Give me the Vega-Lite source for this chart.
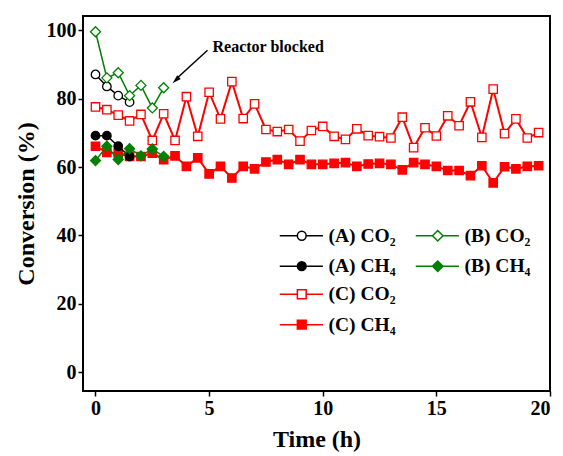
{
  "$schema": "https://vega.github.io/schema/vega-lite/v6.json",
  "width": 467,
  "height": 375,
  "autosize": {"type": "none"},
  "padding": {"left": 83, "top": 16, "right": 13, "bottom": 65},
  "background": "white",
  "config": {
    "view": {"stroke": "black", "strokeWidth": 2},
    "font": "Liberation Serif",
    "axis": {"domain": false, "grid": false, "tickColor": "black", "tickWidth": 1.5, "tickSize": 5, "labelFont": "Liberation Serif", "labelFontWeight": "bold", "labelFontSize": 20, "labelColor": "black", "labelPadding": 2, "titleFont": "Liberation Serif", "titleFontWeight": "bold", "titleFontSize": 24, "titleColor": "black"},
    "legend": {"labelFont": "Liberation Serif", "labelFontWeight": "bold", "labelFontSize": 19.5, "labelColor": "black", "padding": 0, "offset": 0, "rowPadding": 9.4, "symbolSize": 64, "symbolStrokeWidth": 1.5, "symbolOpacity": 1, "labelOffset": 17, "orient": "none", "direction": "vertical"}
  },
  "data": {"values": [
    {"s": "(A) CO₂", "t": 0, "v": 87.1}, {"s": "(A) CO₂", "t": 0.5, "v": 83.6}, {"s": "(A) CO₂", "t": 1, "v": 80.9}, {"s": "(A) CO₂", "t": 1.5, "v": 79.0},
    {"s": "(A) CH₄", "t": 0, "v": 69.2}, {"s": "(A) CH₄", "t": 0.5, "v": 69.2}, {"s": "(A) CH₄", "t": 1, "v": 66.1}, {"s": "(A) CH₄", "t": 1.5, "v": 63.1},
    {"s": "(B) CO₂", "t": 0, "v": 99.6}, {"s": "(B) CO₂", "t": 0.5, "v": 86.1}, {"s": "(B) CO₂", "t": 1, "v": 87.6}, {"s": "(B) CO₂", "t": 1.5, "v": 80.9}, {"s": "(B) CO₂", "t": 2, "v": 83.9}, {"s": "(B) CO₂", "t": 2.5, "v": 77.3}, {"s": "(B) CO₂", "t": 3, "v": 83.2},
    {"s": "(B) CH₄", "t": 0, "v": 61.9}, {"s": "(B) CH₄", "t": 0.5, "v": 66.1}, {"s": "(B) CH₄", "t": 1, "v": 62.2}, {"s": "(B) CH₄", "t": 1.5, "v": 65.4}, {"s": "(B) CH₄", "t": 2, "v": 63.3}, {"s": "(B) CH₄", "t": 2.5, "v": 65.3}, {"s": "(B) CH₄", "t": 3, "v": 63.1},
    {"s": "(C) CO₂", "t": 0, "v": 77.6}, {"s": "(C) CO₂", "t": 0.5, "v": 76.8}, {"s": "(C) CO₂", "t": 1, "v": 75.2}, {"s": "(C) CO₂", "t": 1.5, "v": 73.5}, {"s": "(C) CO₂", "t": 2, "v": 75.4}, {"s": "(C) CO₂", "t": 2.5, "v": 67.8}, {"s": "(C) CO₂", "t": 3, "v": 75.6}, {"s": "(C) CO₂", "t": 3.5, "v": 67.8}, {"s": "(C) CO₂", "t": 4, "v": 80.6}, {"s": "(C) CO₂", "t": 4.5, "v": 69.0},
    {"s": "(C) CO₂", "t": 5, "v": 81.9}, {"s": "(C) CO₂", "t": 5.5, "v": 74.1}, {"s": "(C) CO₂", "t": 6, "v": 85.0}, {"s": "(C) CO₂", "t": 6.5, "v": 74.2}, {"s": "(C) CO₂", "t": 7, "v": 78.5}, {"s": "(C) CO₂", "t": 7.5, "v": 71.0}, {"s": "(C) CO₂", "t": 8, "v": 70.4}, {"s": "(C) CO₂", "t": 8.5, "v": 71.0}, {"s": "(C) CO₂", "t": 9, "v": 67.6}, {"s": "(C) CO₂", "t": 9.5, "v": 70.7},
    {"s": "(C) CO₂", "t": 10, "v": 71.9}, {"s": "(C) CO₂", "t": 10.5, "v": 69.0}, {"s": "(C) CO₂", "t": 11, "v": 68.1}, {"s": "(C) CO₂", "t": 11.5, "v": 71.2}, {"s": "(C) CO₂", "t": 12, "v": 69.2}, {"s": "(C) CO₂", "t": 12.5, "v": 68.9}, {"s": "(C) CO₂", "t": 13, "v": 68.5}, {"s": "(C) CO₂", "t": 13.5, "v": 74.6}, {"s": "(C) CO₂", "t": 14, "v": 65.7}, {"s": "(C) CO₂", "t": 14.5, "v": 71.5},
    {"s": "(C) CO₂", "t": 15, "v": 69.1}, {"s": "(C) CO₂", "t": 15.5, "v": 75.0}, {"s": "(C) CO₂", "t": 16, "v": 72.1}, {"s": "(C) CO₂", "t": 16.5, "v": 79.1}, {"s": "(C) CO₂", "t": 17, "v": 68.7}, {"s": "(C) CO₂", "t": 17.5, "v": 82.8}, {"s": "(C) CO₂", "t": 18, "v": 69.8}, {"s": "(C) CO₂", "t": 18.5, "v": 74.1}, {"s": "(C) CO₂", "t": 19, "v": 68.5}, {"s": "(C) CO₂", "t": 19.5, "v": 70.1},
    {"s": "(C) CH₄", "t": 0, "v": 66.1}, {"s": "(C) CH₄", "t": 0.5, "v": 64.3}, {"s": "(C) CH₄", "t": 1, "v": 64.0}, {"s": "(C) CH₄", "t": 1.5, "v": 63.1}, {"s": "(C) CH₄", "t": 2, "v": 63.1}, {"s": "(C) CH₄", "t": 2.5, "v": 64.1}, {"s": "(C) CH₄", "t": 3, "v": 62.2}, {"s": "(C) CH₄", "t": 3.5, "v": 63.3}, {"s": "(C) CH₄", "t": 4, "v": 60.2}, {"s": "(C) CH₄", "t": 4.5, "v": 62.7},
    {"s": "(C) CH₄", "t": 5, "v": 58.0}, {"s": "(C) CH₄", "t": 5.5, "v": 60.2}, {"s": "(C) CH₄", "t": 6, "v": 56.8}, {"s": "(C) CH₄", "t": 6.5, "v": 60.2}, {"s": "(C) CH₄", "t": 7, "v": 59.5}, {"s": "(C) CH₄", "t": 7.5, "v": 61.5}, {"s": "(C) CH₄", "t": 8, "v": 62.2}, {"s": "(C) CH₄", "t": 8.5, "v": 60.8}, {"s": "(C) CH₄", "t": 9, "v": 62.2}, {"s": "(C) CH₄", "t": 9.5, "v": 60.8},
    {"s": "(C) CH₄", "t": 10, "v": 60.8}, {"s": "(C) CH₄", "t": 10.5, "v": 61.1}, {"s": "(C) CH₄", "t": 11, "v": 61.3}, {"s": "(C) CH₄", "t": 11.5, "v": 60.2}, {"s": "(C) CH₄", "t": 12, "v": 60.9}, {"s": "(C) CH₄", "t": 12.5, "v": 61.1}, {"s": "(C) CH₄", "t": 13, "v": 60.8}, {"s": "(C) CH₄", "t": 13.5, "v": 59.2}, {"s": "(C) CH₄", "t": 14, "v": 61.3}, {"s": "(C) CH₄", "t": 14.5, "v": 60.8},
    {"s": "(C) CH₄", "t": 15, "v": 60.2}, {"s": "(C) CH₄", "t": 15.5, "v": 59.0}, {"s": "(C) CH₄", "t": 16, "v": 59.0}, {"s": "(C) CH₄", "t": 16.5, "v": 57.5}, {"s": "(C) CH₄", "t": 17, "v": 60.4}, {"s": "(C) CH₄", "t": 17.5, "v": 55.4}, {"s": "(C) CH₄", "t": 18, "v": 60.1}, {"s": "(C) CH₄", "t": 18.5, "v": 59.5}, {"s": "(C) CH₄", "t": 19, "v": 60.2}, {"s": "(C) CH₄", "t": 19.5, "v": 60.4}
  ]},
  "encoding": {
    "x": {"field": "t", "type": "quantitative", "scale": {"domain": [-0.55, 20], "nice": false, "zero": false}, "axis": {"values": [0, 5, 10, 15, 20], "title": "Time (h)", "titlePadding": 9}},
    "y": {"field": "v", "type": "quantitative", "scale": {"domain": [-5.5, 104.2], "nice": false, "zero": false}, "axis": {"values": [0, 20, 40, 60, 80, 100], "title": "Conversion (%)", "titlePadding": 8}}
  },
  "layer": [
    {
      "transform": [{"filter": {"field": "s", "equal": "(C) CO₂"}}],
      "layer": [
        {"mark": {"type": "line", "color": "red", "strokeWidth": 2}, "encoding": {}},
        {"mark": {"type": "point", "shape": "square", "size": 70, "filled": true, "fill": "white", "stroke": "red", "strokeWidth": 1.3, "opacity": 1}, "encoding": {}}
      ]
    },
    {
      "transform": [{"filter": {"field": "s", "equal": "(C) CH₄"}}],
      "layer": [
        {"mark": {"type": "line", "color": "red", "strokeWidth": 2}, "encoding": {}},
        {"mark": {"type": "point", "shape": "square", "size": 70, "filled": true, "fill": "red", "stroke": "red", "strokeWidth": 1.3, "opacity": 1}, "encoding": {}}
      ]
    },
    {
      "transform": [{"filter": {"field": "s", "equal": "(A) CO₂"}}],
      "layer": [
        {"mark": {"type": "line", "color": "black", "strokeWidth": 1.5}, "encoding": {}},
        {"mark": {"type": "point", "shape": "circle", "size": 72, "filled": true, "fill": "white", "stroke": "black", "strokeWidth": 1.3, "opacity": 1}, "encoding": {}}
      ]
    },
    {
      "transform": [{"filter": {"field": "s", "equal": "(A) CH₄"}}],
      "layer": [
        {"mark": {"type": "line", "color": "black", "strokeWidth": 1.5}, "encoding": {}},
        {"mark": {"type": "point", "shape": "circle", "size": 72, "filled": true, "fill": "black", "stroke": "black", "strokeWidth": 1.3, "opacity": 1}, "encoding": {}}
      ]
    },
    {
      "transform": [{"filter": {"field": "s", "equal": "(B) CO₂"}}],
      "layer": [
        {"mark": {"type": "line", "color": "#008000", "strokeWidth": 1.5}, "encoding": {}},
        {"mark": {"type": "point", "shape": "diamond", "size": 100, "filled": true, "fill": "white", "stroke": "#008000", "strokeWidth": 1.3, "opacity": 1}, "encoding": {}}
      ]
    },
    {
      "transform": [{"filter": {"field": "s", "equal": "(B) CH₄"}}],
      "layer": [
        {"mark": {"type": "line", "color": "#008000", "strokeWidth": 1.5}, "encoding": {}},
        {"mark": {"type": "point", "shape": "diamond", "size": 100, "filled": true, "fill": "#008000", "stroke": "#008000", "strokeWidth": 1.3, "opacity": 1}, "encoding": {}}
      ]
    },
    {
      "transform": [{"filter": "datum.t < -100"}],
      "mark": {"type": "point", "shape": "M-5.5,0L-1.1,0M1.1,0L5.3,0M-1.1,0A1.1,1.1,0,1,0,1.1,0A1.1,1.1,0,1,0,-1.1,0Z", "filled": true, "stroke": "black", "strokeWidth": 1.5, "opacity": 1},
      "encoding": {
        "fill": {"field": "s", "type": "nominal", "scale": {"domain": ["(A) CO₂", "(A) CH₄"], "range": ["white", "black"]},
          "legend": {"title": null, "legendX": 209, "legendY": 210, "symbolType": "M-5.5,0L-1.1,0M1.1,0L5.3,0M-1.1,0A1.1,1.1,0,1,0,1.1,0A1.1,1.1,0,1,0,-1.1,0Z", "symbolStrokeColor": "black"}}
      }
    },
    {
      "transform": [{"filter": "datum.t < -100"}],
      "mark": {"type": "point", "shape": "M-5.5,0L-1.1,0M1.1,0L5.3,0M-1.1,-1.1L1.1,-1.1L1.1,1.1L-1.1,1.1Z", "filled": true, "stroke": "red", "strokeWidth": 1.5, "opacity": 1},
      "encoding": {
        "fill": {"field": "s", "type": "nominal", "scale": {"domain": ["(C) CO₂", "(C) CH₄"], "range": ["white", "red"]},
          "legend": {"title": null, "legendX": 209, "legendY": 268.5, "symbolType": "M-5.5,0L-1.1,0M1.1,0L5.3,0M-1.1,-1.1L1.1,-1.1L1.1,1.1L-1.1,1.1Z", "symbolStrokeColor": "red"}}
      }
    },
    {
      "transform": [{"filter": "datum.t < -100"}],
      "mark": {"type": "point", "shape": "M-5.5,0L-1.3,0M1.3,0L5.3,0M-1.3,0L0,-1.3L1.3,0L0,1.3Z", "filled": true, "stroke": "#008000", "strokeWidth": 1.5, "opacity": 1},
      "encoding": {
        "fill": {"field": "s", "type": "nominal", "scale": {"domain": ["(B) CO₂", "(B) CH₄"], "range": ["white", "#008000"]},
          "legend": {"title": null, "legendX": 345, "legendY": 210, "symbolType": "M-5.5,0L-1.3,0M1.3,0L5.3,0M-1.3,0L0,-1.3L1.3,0L0,1.3Z", "symbolStrokeColor": "#008000"}}
      }
    },
    {
      "data": {"values": [{"t": 4.93, "v": 94.2, "t2": 3.62, "v2": 86.2}]},
      "mark": {"type": "rule", "color": "black", "strokeWidth": 1.5},
      "encoding": {"x2": {"field": "t2"}, "y2": {"field": "v2"}}
    },
    {
      "data": {"values": [{"t": 3.39, "v": 84.55}]},
      "mark": {"type": "point", "shape": "M0,0L-0.65,2.2L0.65,2.2Z", "angle": 227, "size": 64, "filled": true, "color": "black", "opacity": 1, "strokeWidth": 0},
      "encoding": {}
    },
    {
      "data": {"values": [{"t": 5.15, "v": 93.6, "label": "Reactor blocked"}]},
      "mark": {"type": "text", "align": "left", "baseline": "alphabetic", "font": "Liberation Serif", "fontWeight": "bold", "fontSize": 16, "color": "black"},
      "encoding": {"text": {"field": "label"}}
    }
  ],
  "resolve": {"scale": {"fill": "independent"}}
}
